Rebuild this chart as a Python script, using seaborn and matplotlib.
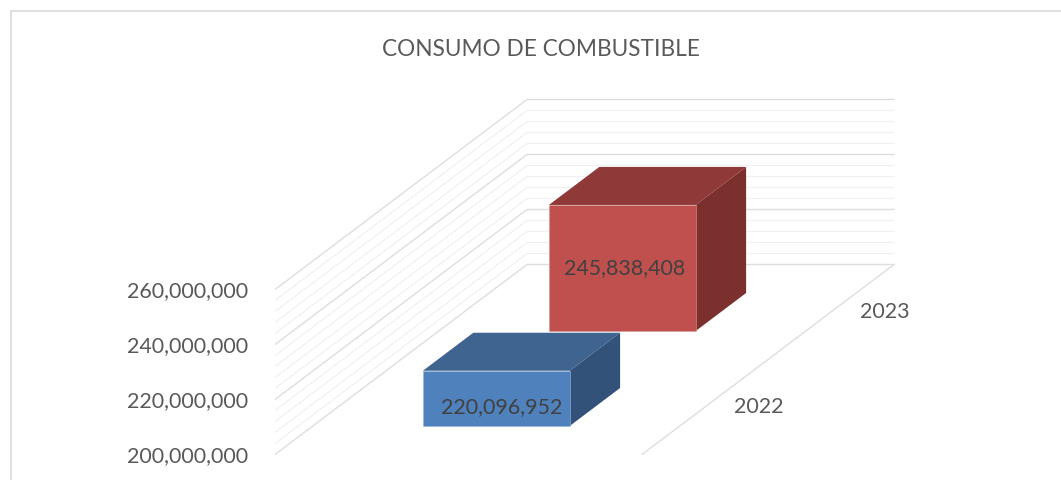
import matplotlib
matplotlib.use('Agg')
import matplotlib.pyplot as plt
from matplotlib.lines import Line2D
from matplotlib.ticker import FuncFormatter
import numpy as np
import seaborn as sns

years = ['2022', '2023']
consumo = [220096952, 245838408]
value_ticks = [200000000, 220000000, 240000000, 260000000]
grid_values = np.arange(200000000, 260000001, 4000000)

front_colors = ['#4f81bd', '#c0504d']
top_colors = ['#3e648f', '#8f3a38']
side_colors = ['#32527a', '#7b302e']
edge_colors = ['#9db8d8', '#d49a98']
label_shift = [(5, 9), (2, 0)]

# oblique 3d look: all sizes in pixels of the 1061x480 figure
W, H = 1061, 480
axes_left = 275
floor_y = 454.5
floor_width = 367
depth_dx, depth_dy = 252, 190
px_per_value = 55 / 20000000
bar_share = 0.4
value_min = value_ticks[0]

sns.set_theme(style='white')
plt.rcParams['font.family'] = ['Lato', 'DejaVu Sans']

fig = plt.figure(figsize=(W / 100, H / 100), dpi=100)
ax = fig.add_axes([axes_left / W, 0, 1 - axes_left / W, 1])


def project(u, t, value):
    """u along the floor width, t into the depth (both 0-1), value on the wall."""
    x = u * floor_width + t * depth_dx
    y = value + t * depth_dy / px_per_value
    return x, y


# walls
for v in grid_values:
    major = v in value_ticks
    color = '#dedede' if major else '#f1f1f1'
    lw = 1.0 if major else 0.9
    xs, ys = zip(project(0, 0, v), project(0, 1, v), project(1, 1, v))
    ax.plot(xs, ys, color=color, lw=lw, zorder=1, solid_joinstyle='miter')
xs, ys = zip(project(1, 0, value_min), project(1, 1, value_min))
ax.plot(xs, ys, color='#dedede', lw=1.0, zorder=1)

# bars, back one first
for i in [1, 0]:
    t0 = (i + 0.5) / len(years) - bar_share / 4
    t1 = t0 + bar_share / 2
    u0, u1 = 0.5 - bar_share / 2, 0.5 + bar_share / 2
    v = consumo[i]
    z = 3 + (1 - i) * 3

    top = [project(u0, t0, v), project(u1, t0, v), project(u1, t1, v), project(u0, t1, v)]
    side = [project(u1, t0, value_min), project(u1, t1, value_min),
            project(u1, t1, v), project(u1, t0, v)]
    ax.fill(*zip(*top), color=top_colors[i], lw=0, zorder=z)
    ax.fill(*zip(*side), color=side_colors[i], lw=0, zorder=z)

    x_left, y_base = project(u0, t0, value_min)
    _, y_top = project(u0, t0, v)
    sns.barplot(x=[x_left + floor_width * bar_share / 2], y=[y_top - y_base], bottom=y_base,
                native_scale=True, width=floor_width * bar_share, color=front_colors[i],
                saturation=1, edgecolor=edge_colors[i], linewidth=0.4, zorder=z + 1, ax=ax)

    # data label on the front face
    dx, dy = label_shift[i]
    xc = x_left + floor_width * bar_share / 2 + dx
    yc = (y_base + y_top) / 2 - dy / px_per_value
    ax.text(xc, yc, f'{v:,}', ha='center', va='center', fontsize=15.4, color='#404040', zorder=10)

# depth axis labels
for i, year in enumerate(years):
    x, y = project(1, (i + 0.5) / len(years), value_min)
    ax.text(x + 54, y, year, ha='center', va='center', fontsize=15.4, color='#595959')

ax.set_xlim(0, W - axes_left)
ax.set_ylim(value_min - (H - floor_y) / px_per_value, value_min + floor_y / px_per_value)
ax.set_xticks([])
ax.set_xlabel('')
ax.set_ylabel('')
ax.set_yticks(value_ticks)
ax.yaxis.set_major_formatter(FuncFormatter(lambda v, pos: f'{int(v):,}'))
ax.tick_params(axis='y', length=0, pad=19, labelsize=15.4, labelcolor='#595959')
sns.despine(ax=ax, left=True, bottom=True)

fig.suptitle('CONSUMO DE COMBUSTIBLE', x=540.5 / W, y=1 - 50 / H, va='center',
             fontsize=16.3, color='#595959')

# chart frame, only top and left are inside the crop
frame = dict(color='#e0e0e0', lw=1.5, transform=fig.transFigure)
fig.add_artist(Line2D([11 / W, 11 / W], [0, 1 - 11 / H], **frame))
fig.add_artist(Line2D([11 / W, 1], [1 - 11 / H, 1 - 11 / H], **frame))

fig.savefig('out.png', dpi=100)
